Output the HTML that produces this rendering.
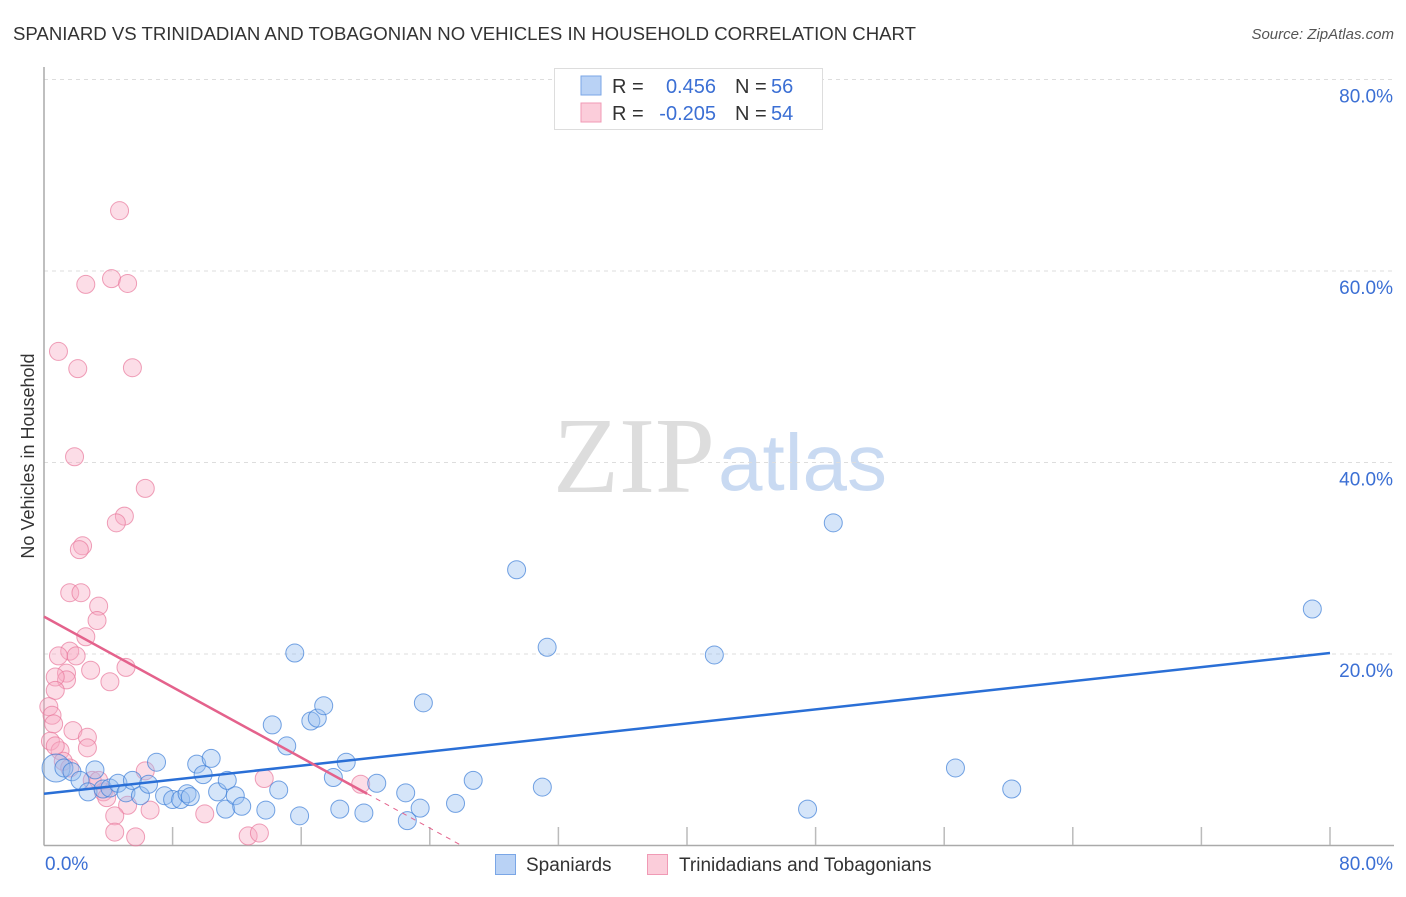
<!DOCTYPE html>
<html><head><meta charset="utf-8"><style>
body{margin:0;background:#fff;font-family:"Liberation Sans",sans-serif}
svg text{font-family:"Liberation Sans",sans-serif}
</style></head><body>
<svg id="c" width="1406" height="892">
<text x="13" y="40" font-size="18.6" fill="#333">SPANIARD VS TRINIDADIAN AND TOBAGONIAN NO VEHICLES IN HOUSEHOLD CORRELATION CHART</text>
<text x="1394" y="39" font-size="15" fill="#555" font-style="italic" text-anchor="end">Source: ZipAtlas.com</text>
<text transform="translate(34,456) rotate(-90)" font-size="18" fill="#333" text-anchor="middle">No Vehicles in Household</text>
<g>
<text x="553" y="492" font-size="108" fill="#ddd" style="font-family:'Liberation Serif',serif">ZIP</text>
<text x="718" y="490" font-size="80" fill="#c9daf2">atlas</text>
</g>
<g id="grid"></g><g id="axes"></g><g id="pts"></g><g id="lines"></g>
<g>
<rect x="554.5" y="68.5" width="268" height="61" fill="#fff" stroke="#ddd"/>
<rect x="581" y="76" width="20" height="19" fill="#b9d2f5" stroke="#7aa6e6"/>
<rect x="581" y="103" width="20" height="19" fill="#fbcdda" stroke="#f09ab5"/>
<text x="612" y="93" font-size="20" fill="#333">R =</text>
<text x="716" y="93" font-size="20" fill="#3b6fd4" text-anchor="end">0.456</text>
<text x="735" y="93" font-size="20" fill="#333">N =</text>
<text x="771" y="93" font-size="20" fill="#3b6fd4">56</text>
<text x="612" y="120" font-size="20" fill="#333">R =</text>
<text x="716" y="120" font-size="20" fill="#3b6fd4" text-anchor="end">-0.205</text>
<text x="735" y="120" font-size="20" fill="#333">N =</text>
<text x="771" y="120" font-size="20" fill="#3b6fd4">54</text>
</g>
<g>
<rect x="495.5" y="854.5" width="20" height="20" fill="#b9d2f5" stroke="#7aa6e6"/>
<text x="526" y="871" font-size="19" fill="#333">Spaniards</text>
<rect x="647.5" y="854.5" width="20" height="20" fill="#fbcdda" stroke="#f09ab5"/>
<text x="679" y="871" font-size="19" fill="#333">Trinidadians and Tobagonians</text>
</g>
</svg>
<script>
const yTicks=[20,40,60,80];
const yTickLabels=["20.0%","40.0%","60.0%","80.0%"];
const xTicks=[8,16,24,32,40,48,56,64,72,80];
const blueX=[0.75,1.24,1.74,2.24,2.74,3.17,3.67,4.1,4.6,5.1,5.5,6.0,6.5,7.0,7.5,8.0,8.5,8.9,9.1,9.5,9.9,10.4,10.8,11.3,11.4,11.9,12.3,13.8,14.2,14.6,15.1,15.6,15.9,16.6,17.0,17.4,18.0,18.4,18.8,19.9,20.7,22.5,22.6,23.4,23.6,25.6,26.7,29.4,31.0,31.3,41.7,47.5,49.1,56.7,60.2,78.9];
const blueY=[8.1,8.1,7.7,6.8,5.6,7.9,5.9,6.0,6.5,5.5,6.8,5.2,6.4,8.7,5.2,4.8,4.8,5.4,5.1,8.5,7.4,9.1,5.6,3.8,6.8,5.2,4.1,3.7,12.6,5.8,10.4,20.1,3.1,13.0,13.3,14.6,7.1,3.8,8.7,3.4,6.5,5.5,2.6,3.9,14.9,4.4,6.8,28.8,6.1,20.7,19.9,3.8,33.7,8.1,5.9,24.7];
const pinkX=[4.7,4.2,5.2,2.6,0.9,2.1,5.5,1.9,6.3,5.0,4.5,2.4,2.2,1.6,2.3,3.4,3.3,2.6,1.6,0.9,2.0,5.1,2.9,1.4,1.4,0.7,4.1,0.7,0.3,0.5,0.6,1.8,2.7,0.4,2.7,1.0,1.2,1.6,6.3,13.7,19.7,3.0,3.7,3.9,5.2,6.6,10.0,4.4,4.4,12.7,13.4,5.7,0.7,3.4];
const pinkY=[66.3,59.2,58.7,58.6,51.6,49.8,49.9,40.6,37.3,34.4,33.7,31.3,30.9,26.4,26.4,25.0,23.5,21.8,20.3,19.8,19.8,18.6,18.3,18.0,17.3,17.6,17.1,16.2,14.5,13.6,12.7,12.0,11.3,10.9,10.2,9.9,8.8,8.1,7.8,7.0,6.4,6.8,5.6,5.0,4.2,3.7,3.3,3.1,1.4,1.0,1.3,0.9,10.4,6.8];
const blueTrend=[5.4,20.1];   // y at x=0, x=80
const pinkTrend=[23.9,-0.92];  // intercept, slope
const X=v=>44+v*16.075, Y=v=>845.5-v*9.575;
const NS="http://www.w3.org/2000/svg";
function mk(t,a,p){const e=document.createElementNS(NS,t);for(const k in a)e.setAttribute(k,a[k]);p.appendChild(e);return e;}
const grid=document.getElementById('grid'),axes=document.getElementById('axes'),pts=document.getElementById('pts'),lines=document.getElementById('lines');
yTicks.forEach((t,i)=>{
 const l=mk('line',{x1:44,x2:1394,y1:Y(t),y2:Y(t),stroke:'#ddd','stroke-dasharray':'4,4'},grid);
 
 
 const tx=mk('text',{x:1393,y:Y(t)+23,'font-size':19,fill:'#3b6fd4','text-anchor':'end'},axes);
 tx.textContent=yTickLabels[i];
 
 
});
const la=mk('line',{x1:44,x2:44,y1:67,y2:845.5,stroke:'#aaa','stroke-width':1.5},axes);


const lb=mk('line',{x1:44,x2:1394,y1:845.5,y2:845.5,stroke:'#aaa','stroke-width':1.5},axes);


xTicks.forEach(t=>{
 const k=mk('line',{x1:X(t),x2:X(t),y1:827,y2:845,stroke:'#bbb','stroke-width':1.5},axes);
 
 
});
const x0=mk('text',{x:45,y:870,'font-size':19,fill:'#3b6fd4'},axes);x0.textContent='0.0%';


const x1=mk('text',{x:1393,y:870,'font-size':19,fill:'#3b6fd4','text-anchor':'end'},axes);x1.textContent='80.0%';


pinkX.forEach((v,i)=>{
 const c=mk('circle',{cx:X(v),cy:Y(pinkY[i]),r:9,fill:'rgba(248,170,195,0.4)',stroke:'rgba(232,120,155,0.7)','stroke-width':1},pts);
 
 
});
blueX.forEach((v,i)=>{
 const c=mk('circle',{cx:X(v),cy:Y(blueY[i]),r:i==0?14:9,fill:'rgba(150,190,240,0.4)',stroke:'rgba(60,125,215,0.7)','stroke-width':1},pts);
 
 
});
const bl=mk('line',{x1:X(0),y1:Y(blueTrend[0]),x2:X(80),y2:Y(blueTrend[1]),stroke:'#2a6fd6','stroke-width':2.5},lines);


const pe=20.1, pz=-pinkTrend[0]/pinkTrend[1];
const pl=mk('line',{x1:X(0),y1:Y(pinkTrend[0]),x2:X(pe),y2:Y(pinkTrend[0]+pinkTrend[1]*pe),stroke:'#e4628c','stroke-width':2.5},lines);


const pd=mk('line',{x1:X(pe),y1:Y(pinkTrend[0]+pinkTrend[1]*pe),x2:X(pz),y2:Y(0),stroke:'#e4628c','stroke-width':1,'stroke-dasharray':'5,5'},lines);


</script>
</body></html>
